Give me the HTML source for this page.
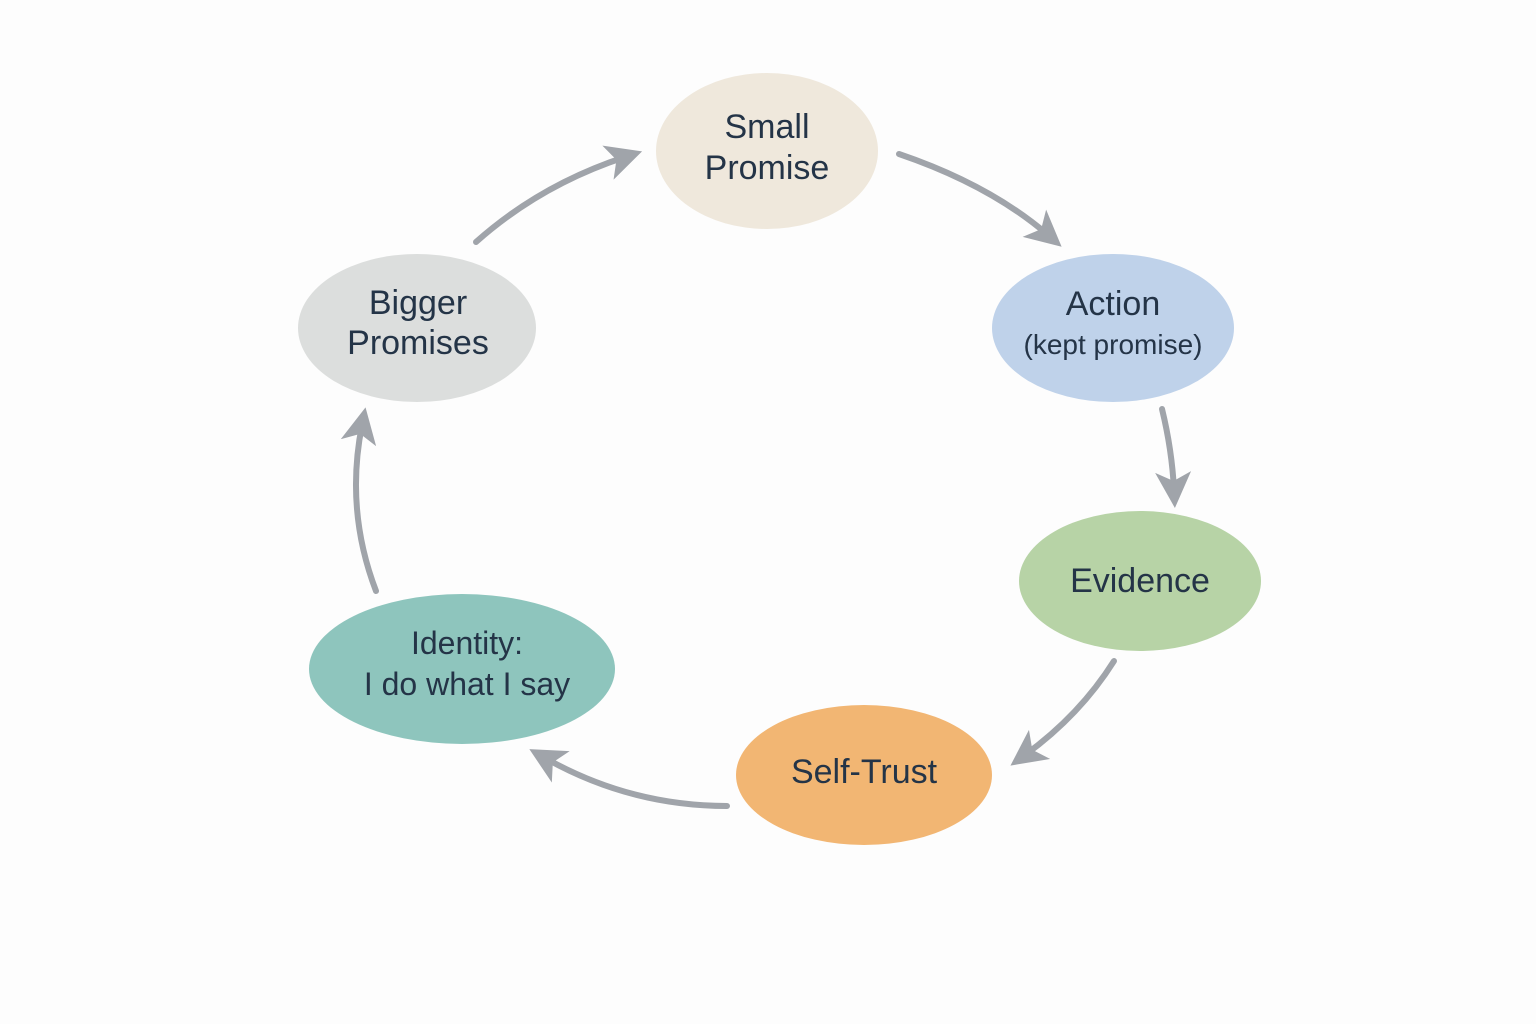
<!DOCTYPE html>
<html><head><meta charset="utf-8"><style>
html,body{margin:0;padding:0;background:#fdfdfd;}
svg{display:block}
text{font-family:"Liberation Sans",sans-serif;fill:#243447;text-anchor:middle;}
</style></head><body>
<svg width="1536" height="1024" viewBox="0 0 1536 1024" xmlns="http://www.w3.org/2000/svg">
<defs>
<marker id="ah" markerWidth="6" markerHeight="6" refX="3" refY="3" orient="auto" markerUnits="strokeWidth">
<path d="M0,0 L6,3 L0,6 L1.5,3 Z" fill="#a0a4aa"/>
</marker>
</defs>
<g fill="none" stroke="#a0a4aa" stroke-width="6" stroke-linecap="round" marker-end="url(#ah)">
<path d="M899,154 Q990,185 1048,235"/>
<path d="M1162,409 Q1172,450 1174,490"/>
<path d="M1114,661 Q1080,715 1025,755"/>
<path d="M727,806 Q630,806 545,758"/>
<path d="M376,591 Q345,510 362,425"/>
<path d="M476,242 Q540,185 625,157"/>
</g>
<ellipse cx="767" cy="151" rx="111" ry="78" fill="#efe8dc"/>
<ellipse cx="1113" cy="328" rx="121" ry="74" fill="#bfd2ea"/>
<ellipse cx="1140" cy="581" rx="121" ry="70" fill="#b7d3a6"/>
<ellipse cx="864" cy="775" rx="128" ry="70" fill="#f2b673"/>
<ellipse cx="462" cy="669" rx="153" ry="75" fill="#8ec5bd"/>
<ellipse cx="417" cy="328" rx="119" ry="74" fill="#dcdedd"/>
<text x="767" y="138" font-size="34">Small</text>
<text x="767" y="179" font-size="34">Promise</text>
<text x="1113" y="315" font-size="34">Action</text>
<text x="1113" y="354" font-size="28">(kept promise)</text>
<text x="1140" y="592" font-size="34">Evidence</text>
<text x="864" y="783" font-size="34">Self-Trust</text>
<text x="467" y="654" font-size="32">Identity:</text>
<text x="467" y="695" font-size="32">I do what I say</text>
<text x="418" y="314" font-size="34">Bigger</text>
<text x="418" y="354" font-size="34">Promises</text>
</svg>
</body></html>
